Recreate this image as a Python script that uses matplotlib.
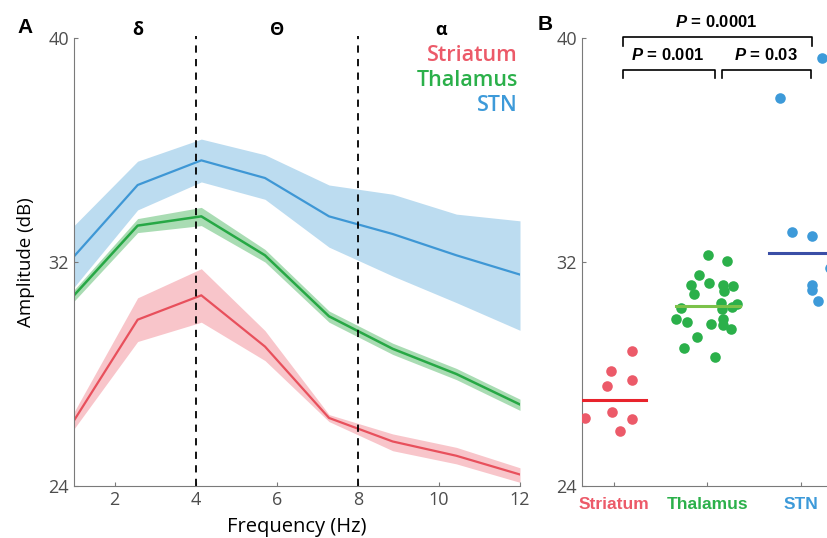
import matplotlib
matplotlib.use('Agg')
import matplotlib.pyplot as plt
import numpy as np

plt.rcParams['font.family'] = ['Open Sans', 'DejaVu Sans']
plt.rcParams['mathtext.fontset'] = 'custom'
plt.rcParams['mathtext.it'] = 'Liberation Sans:italic:bold'
plt.rcParams['mathtext.rm'] = 'Liberation Sans:bold'

FONT_SIZE_TICKS = 13
FONT_SIZE_AXES = 13.5
FONT_SIZE_NAMES = 15.5
FONT_SIZE_P = 12
FONT_SIZE_PANEL = 15

AXIS_GREY = '#7a7a7a'
TICK_GREY = '#4d4d4d'

# Panel A: mean amplitude spectra with shaded error bands
freqs = [1.0, 2.57, 4.14, 5.71, 7.29, 8.86, 10.43, 12.0]

stn_mean = [32.2, 34.75, 35.63, 35.0, 33.63, 33.0, 32.24, 31.55]
stn_upper = [33.3, 35.6, 36.39, 35.83, 34.75, 34.42, 33.71, 33.47]
stn_lower = [31.1, 33.86, 34.86, 34.24, 32.53, 31.5, 30.55, 29.56]

thal_mean = [30.81, 33.3, 33.63, 32.24, 30.06, 28.9, 28.0, 26.91]
thal_upper = [31.0, 33.55, 33.95, 32.45, 30.25, 29.1, 28.2, 27.1]
thal_lower = [30.6, 33.05, 33.3, 32.0, 29.85, 28.7, 27.8, 26.7]

str_mean = [26.34, 29.94, 30.81, 28.98, 26.43, 25.59, 25.08, 24.41]
str_upper = [26.64, 30.72, 31.76, 29.55, 26.55, 25.86, 25.38, 24.65]
str_lower = [26.04, 29.16, 29.85, 28.48, 26.3, 25.26, 24.79, 24.13]

band_edges = [4, 8]
band_names = ['δ', 'Θ', 'α']
band_label_x = [2.56, 6.0, 10.06]

# Panel B: per-recording amplitude
regions = ['Striatum', 'Thalamus', 'STN']
str_x = [1.20, 0.97, 0.93, 1.19, 0.98, 0.69, 1.20, 1.07]
str_y = [28.81, 28.09, 27.57, 27.80, 26.64, 26.44, 26.38, 25.96]
thal_x = [2.01, 2.21, 1.91, 1.83, 2.02, 2.17, 2.28, 2.18, 1.86, 2.15, 2.32, 2.26,
          1.72, 2.16, 1.67, 1.78, 2.17, 2.04, 2.17, 2.25, 1.89, 1.75, 2.08]
thal_y = [32.25, 32.02, 31.55, 31.17, 31.25, 31.17, 31.15, 30.95, 30.84, 30.53, 30.51, 30.40,
          30.35, 30.31, 29.98, 29.86, 29.98, 29.80, 29.76, 29.61, 29.33, 28.94, 28.62]
stn_x = [3.23, 2.78, 2.91, 3.12, 3.31, 3.12, 3.12, 3.18]
stn_y = [39.29, 37.84, 33.07, 32.93, 31.79, 31.17, 31.01, 30.60]
group_means = [27.08, 30.42, 32.33]

# (left, right, bracket height, p-value)
comparisons = [(1.10, 3.12, 40.03, '0.0001'), (1.10, 2.08, 38.86, '0.001'), (2.16, 3.11, 38.86, '0.03')]

red = '#ec5a69'
green = '#2bb04a'
blue = '#3d9ad9'

fig = plt.figure(figsize=(8.28, 5.38), dpi=100)


def style_axis(ax):
    for side in ['top', 'right']:
        ax.spines[side].set_visible(False)
    for side in ['left', 'bottom']:
        ax.spines[side].set_color(AXIS_GREY)
        ax.spines[side].set_linewidth(0.8)
    ax.tick_params(direction='in', length=3, width=0.8, color=AXIS_GREY,
                   labelcolor=TICK_GREY, labelsize=FONT_SIZE_TICKS)


# ---- panel A ----
axA = fig.add_axes([74 / 828, 52 / 538, 446 / 828, 448 / 538])
style_axis(axA)
axA.fill_between(freqs, stn_lower, stn_upper, color='#bcdcf0', lw=0)
axA.fill_between(freqs, thal_lower, thal_upper, color='#a9dcb3', lw=0)
axA.fill_between(freqs, str_lower, str_upper, color='#f8c5ca', lw=0)
axA.plot(freqs, stn_mean, color='#3e97d5', lw=1.6)
axA.plot(freqs, thal_mean, color='#27a845', lw=1.8)
axA.plot(freqs, str_mean, color='#e8505c', lw=1.6)
for edge in band_edges:
    axA.axvline(edge, ymin=0, ymax=1.005, color='black', lw=1.3, ls=(0, (4, 3.5)), clip_on=False)
for name, bx in zip(band_names, band_label_x):
    axA.text(bx, 40.3, name, ha='center', va='center', fontsize=13, fontweight='bold')

axA.set_xlim(1, 12)
axA.set_ylim(24, 40)
axA.set_xticks([2, 4, 6, 8, 10, 12])
axA.set_yticks([24, 32, 40])
axA.set_xlabel('Frequency (Hz)', fontsize=14.5, labelpad=6)
axA.set_ylabel('Amplitude (dB)', fontsize=FONT_SIZE_AXES, labelpad=10)

for i, (name, col) in enumerate(zip(regions, [red, green, blue])):
    axA.text(0.995, 0.96 - i * 0.055, name, transform=axA.transAxes, ha='right', va='center',
             color=col, fontsize=FONT_SIZE_NAMES, fontweight='semibold')

fig.text(25 / 828, 1 - 28 / 538, 'A', fontsize=FONT_SIZE_PANEL, fontweight='bold',
         ha='center', va='center', family='Liberation Sans')

# ---- panel B ----
axB = fig.add_axes([582 / 828, 52 / 538, 265.5 / 828, 448 / 538])
style_axis(axB)
axB.scatter(str_x, str_y, s=58, color=red, lw=0, zorder=3)
axB.scatter(thal_x, thal_y, s=58, color=green, lw=0, zorder=3)
axB.scatter(stn_x, stn_y, s=58, color=blue, lw=0, zorder=3, clip_on=False)
axB.plot([0.66, 1.34], [group_means[0]] * 2, color='#e8232c', lw=2.2, zorder=4)
axB.plot([1.67, 2.35], [group_means[1]] * 2, color='#7cc24a', lw=2.2, zorder=4)
axB.plot([2.66, 3.4], [group_means[2]] * 2, color='#3a4ea6', lw=2.2, zorder=4)

for x0, x1, top, pval in comparisons:
    axB.plot([x0, x0, x1, x1], [top - 0.3, top, top, top - 0.3], color='black', lw=1.2, clip_on=False)
    axB.text((x0 + x1) / 2 - 0.01, top + 0.55, '$P$ = ' + pval, ha='center', va='center',
             fontsize=FONT_SIZE_P, fontweight='bold', family='Liberation Sans')

axB.set_xlim(0.66, 3.5)
axB.set_ylim(24, 40)
axB.set_xticks([1, 2, 3])
axB.set_xticklabels(regions, fontweight='bold', family='Liberation Sans', fontsize=12.5)
for lbl, col in zip(axB.get_xticklabels(), [red, green, blue]):
    lbl.set_color(col)
axB.tick_params(axis='x', pad=8)
axB.set_yticks([24, 32, 40])

fig.text(545 / 828, 1 - 24 / 538, 'B', fontsize=FONT_SIZE_PANEL, fontweight='bold',
         ha='center', va='center', family='Liberation Sans')

plt.savefig('out.png', dpi=100)
